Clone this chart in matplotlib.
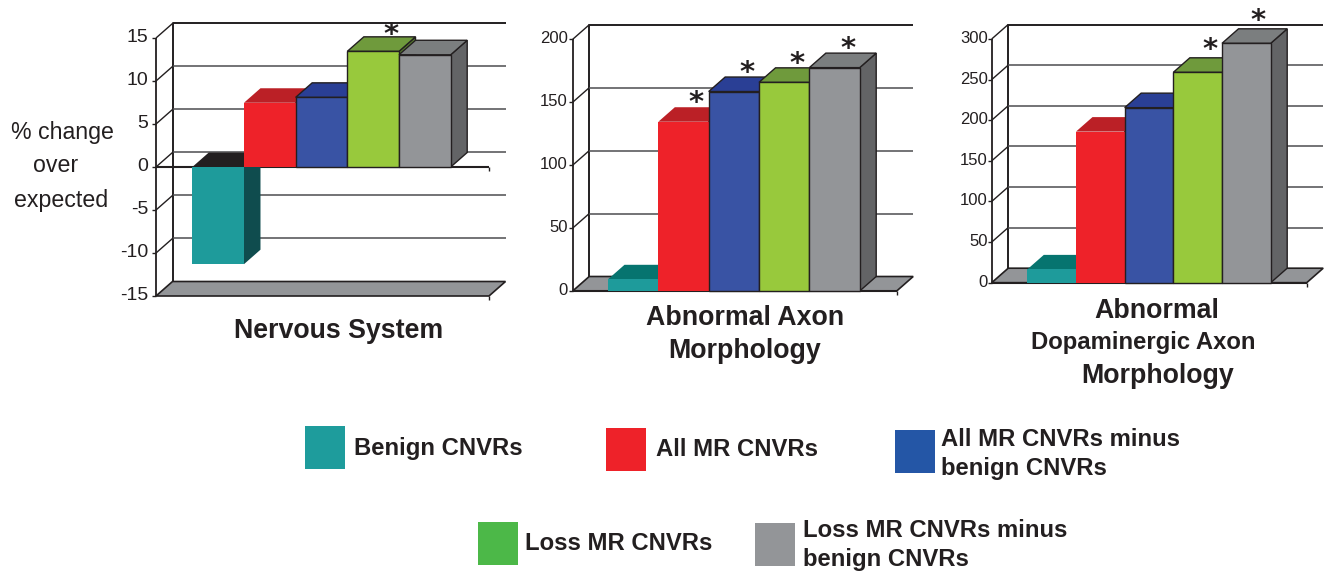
import matplotlib
matplotlib.use("Agg")
import matplotlib.pyplot as plt
from matplotlib.patches import Polygon, Rectangle

plt.rcParams['font.family'] = ['Liberation Sans', 'DejaVu Sans']
W, H = 1324, 571

nervous = [-11.3, 7.47, 8.1, 13.45, 13.05]
axon = [9.3, 134.5, 158.5, 165.8, 177.5]
dopa = [16.4, 186, 215.5, 259, 294.7]
nervous_ticks = [-15, -10, -5, 0, 5, 10, 15]
axon_ticks = [0, 50, 100, 150, 200]
dopa_ticks = [0, 50, 100, 150, 200, 250, 300]
nervous_stars = [False, False, False, True, False]
axon_stars = [False, True, True, True, True]
dopa_stars = [False, False, False, True, True]
title_nervous = ["Nervous System"]
title_axon = ["Abnormal Axon", "Morphology"]
title_dopa = ["Abnormal", "Dopaminergic Axon", "Morphology"]
legend_labels = ["Benign CNVRs", "All MR CNVRs", "All MR CNVRs minus\nbenign CNVRs",
                 "Loss MR CNVRs", "Loss MR CNVRs minus\nbenign CNVRs"]

front = ['#1E9B9B', '#EE2229', '#3953A4', '#98C93C', '#939598']
top = ['#06746F', '#BB2026', '#2A3F95', '#6F9A3C', '#7B7E7F']
side = ['#0F4C4E', '#8E1A1E', '#25346F', '#567A2C', '#636466']
neg_top = '#231F20'
legend_colors = ['#1E9C9C', '#EE2229', '#2456A6', '#4CB848', '#939598']
ink = '#231F20'

fig = plt.figure(figsize=(W / 100, H / 100), dpi=100, facecolor='white')


def panel(vals, ticks, stars, box, bars, depth, fs, tick_off, tick_up, star_off, floor_color='#939598'):
    left, right, ytop, ybot = box
    bl, br = bars
    n = len(vals)
    bw = (br - bl) / n
    ax = fig.add_axes([left / W, 1 - ybot / H, (right - left) / W, (ybot - ytop) / H])
    xlim = ((left - bl) / bw - 0.5, (right - bl) / bw - 0.5)
    ax.set_xlim(xlim)
    ax.set_ylim(min(ticks), max(ticks))
    ax.axis('off')
    ux = (xlim[1] - xlim[0]) / (right - left)
    uy = (max(ticks) - min(ticks)) / (ybot - ytop)
    dx, dy = depth[0] * ux, depth[1] * uy
    lo, hi = min(ticks), max(ticks)
    x0, x1 = xlim

    def poly(pts, fc, z, ec=ink, lw=1.0):
        ax.add_patch(Polygon(pts, closed=True, fc=fc, ec=ec, lw=lw, zorder=z,
                             clip_on=False, joinstyle='miter'))

    def line(xs, ys, z=2, lw=1.3, c=ink):
        ax.plot(xs, ys, color=c, lw=lw, zorder=z, clip_on=False, solid_capstyle='butt')

    # floor
    poly([(x0, lo), (x1, lo), (x1 + dx, lo + dy), (x0 + dx, lo + dy)], floor_color, 1, lw=1.2)
    # back wall, side wall, grid
    line([x0 + dx, x0 + dx, x1 + dx], [lo + dy, hi + dy, hi + dy], lw=1.4)
    line([x0, x0], [lo, hi], lw=1.3)
    for t in ticks:
        if t != lo:
            line([x0, x0 + dx], [t, t + dy], lw=1.0)
        if t not in (lo, hi):
            line([x0 + dx, x1 + dx], [t + dy, t + dy], lw=1.1, c='#4D4D4F')
        line([x0 - 4 * ux, x0], [t, t], lw=1.0)
        ax.text(x0 - tick_off * ux, t + tick_up * uy, str(t), ha='right', va='center',
                fontsize=fs, color=ink, zorder=5)
    # baseline
    base = 0 if lo < 0 else lo
    line([x0, x1], [base, base], z=3, lw=1.5)
    line([x1, x1], [base, base - 4 * uy], z=3, lw=1.0)
    if lo < 0:
        line([x1, x1], [lo, lo - 4 * uy], z=3, lw=1.0)
    # bars
    for i, v in enumerate(vals):
        a, b = i - 0.5, i + 0.5
        z = 10 + i
        if v < 0:
            poly([(b, v), (b, 0), (b + dx, dy), (b + dx, v + dy)], side[i], z, ec='none')
            poly([(a, 0), (b, 0), (b + dx, dy), (a + dx, dy)], neg_top, z, ec='none')
            poly([(a, v), (b, v), (b, 0), (a, 0)], front[i], z + 0.5, ec='none')
        else:
            ec = 'none' if i == 0 else ink
            poly([(b, base), (b, v), (b + dx, v + dy), (b + dx, base + dy)], side[i], z, ec=ec)
            poly([(a, v), (b, v), (b + dx, v + dy), (a + dx, v + dy)], top[i], z, ec=ec if i > 1 else 'none')
            poly([(a, base), (b, base), (b, v), (a, v)], front[i], z + 0.5, ec=ec if i > 1 else 'none')
        if stars[i]:
            ax.text(i + star_off[0] * ux, v + star_off[1] * uy, '*', ha='center', va='center',
                    fontsize=21, color=ink, zorder=30, family='DejaVu Sans', fontweight='bold')


panel(nervous, nervous_ticks, nervous_stars, (156, 489, 38, 296), (192.3, 450.7), (16.5, 14.5),
      14, 8, 0, (18, 16))
panel(axon, axon_ticks, axon_stars, (572.7, 896.7, 39.3, 291), (608, 859.7), (16.5, 14.5),
      12, 5, 0.5, (13, 18.5))
panel(dopa, dopa_ticks, dopa_stars, (991.7, 1306.7, 39, 282.7), (1027.3, 1270.7), (16.5, 14.5),
      12, 4, 0.5, (12, 22.5))


def title(txt, x, y, size=19.3):
    fig.text(x / W, 1 - y / H, txt, ha='center', va='center', fontsize=size,
             fontweight='bold', color=ink)


title(title_nervous[0], 339, 331)
title(title_axon[0], 745, 318)
title(title_axon[1], 745, 351)
title(title_dopa[0], 1157, 311)
title(title_dopa[1], 1143.5, 343, 17.2)
title(title_dopa[2], 1157.5, 376)

fig.text(62 / W, 1 - 132 / H, "% change", ha='center', va='center', fontsize=16.7, color=ink)
fig.text(56 / W, 1 - 166 / H, "over", ha='center', va='center', fontsize=16.7, color=ink)
fig.text(61 / W, 1 - 200 / H, "expected", ha='center', va='center', fontsize=16.7, color=ink)

swatches = [(305, 426), (606, 428), (895, 430), (478, 522), (755, 523)]
text_pos = [(354, 449), (656, 450), (941, 454), (525, 543), (803, 545)]
for c, (sx, sy), lab, (tx, ty) in zip(legend_colors, swatches, legend_labels, text_pos):
    fig.add_artist(Rectangle((sx / W, 1 - (sy + 43) / H), 39.5 / W, 43 / H, fc=c, ec='none',
                             transform=fig.transFigure))
    fig.text(tx / W, 1 - ty / H, lab, ha='left', va='center', fontsize=17.2,
             fontweight='bold', color=ink, linespacing=1.3)

fig.savefig('out.png', dpi=100, facecolor='white')
